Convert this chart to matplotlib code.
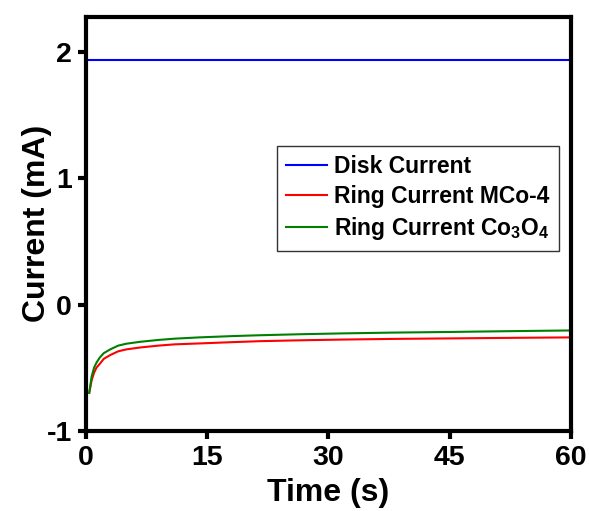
import matplotlib.pyplot as plt

plt.rcParams['font.family'] = ['Liberation Sans', 'DejaVu Sans']
plt.rcParams['font.weight'] = 'bold'
plt.rcParams['axes.unicode_minus'] = False
plt.rcParams['mathtext.fontset'] = 'custom'
plt.rcParams['mathtext.bf'] = 'Liberation Sans:bold'
plt.rcParams['mathtext.rm'] = 'Liberation Sans:bold'

disk_t = [0.4, 60]
disk_i = [1.94, 1.94]

ring_t = [0.4, 0.7, 1.0, 1.3, 1.7, 2.2, 3.0, 4.0, 5.0, 6.7, 9.0, 11.0,
          14.0, 18.0, 21.5, 26.5, 32.0, 38.0, 45.0, 52.0, 60.0]
ring_mco4 = [-0.70, -0.60, -0.54, -0.50, -0.47, -0.43, -0.40, -0.37, -0.355, -0.34, -0.325, -0.315,
             -0.308, -0.298, -0.29, -0.283, -0.277, -0.272, -0.268, -0.264, -0.26]
ring_co3o4 = [-0.70, -0.57, -0.50, -0.46, -0.42, -0.385, -0.355, -0.325, -0.31, -0.295, -0.28, -0.27,
              -0.26, -0.25, -0.243, -0.235, -0.228, -0.222, -0.217, -0.211, -0.205]

fig = plt.figure(figsize=(5.89, 5.11), dpi=100)
ax = fig.add_axes([0.146, 0.157, 0.823, 0.81])

ax.plot(disk_t, disk_i, color='#0000ff', lw=1.5, label='Disk Current')
ax.plot(ring_t, ring_mco4, color='#ff0000', lw=1.5, label='Ring Current MCo-4')
ax.plot(ring_t, ring_co3o4, color='#008000', lw=1.5, label=r'Ring Current Co$_\mathbf{3}$O$_\mathbf{4}$')

ax.set_xlim(0, 60)
ax.set_ylim(-1, 2.28)
ax.set_xticks([0, 15, 30, 45, 60])
ax.set_yticks([-1, 0, 1, 2])

for s in ax.spines.values():
    s.set_linewidth(3)
ax.tick_params(direction='out', length=6, width=3, labelsize=20.5, pad=4)
ax.set_xlabel('Time (s)', fontsize=23, fontweight='bold', labelpad=5)
ax.set_ylabel('Current (mA)', fontsize=23, fontweight='bold', labelpad=-4)

leg = ax.legend(loc='upper right', bbox_to_anchor=(0.975, 0.688), fontsize=16.5,
                frameon=True, fancybox=False, handlelength=1.8, borderpad=0.4,
                labelspacing=0.3, handletextpad=0.3, borderaxespad=0)
leg.get_frame().set_edgecolor('black')
leg.get_frame().set_linewidth(1)

fig.savefig('out.png', dpi=100)
